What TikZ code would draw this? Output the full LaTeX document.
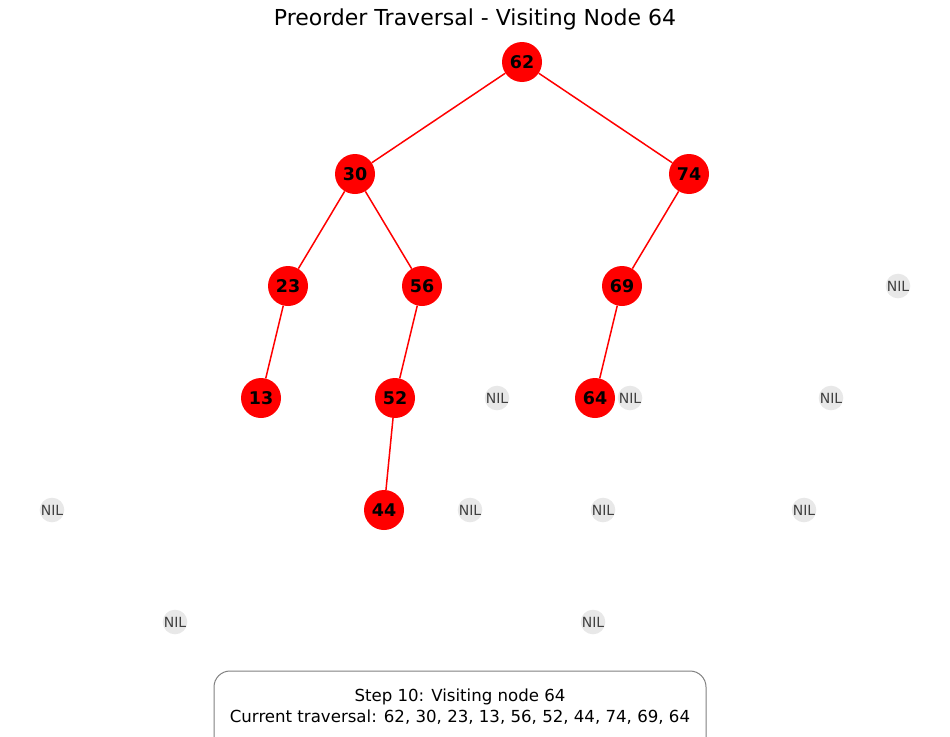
\documentclass[tikz,border=0pt]{standalone}
\usepackage{fontspec}
\setmainfont{DejaVu Sans}
\begin{document}
\begin{tikzpicture}[x=1pt,y=-1pt,
  vnode/.style={circle,fill=red,minimum size=40pt,inner sep=0pt,font=\fontsize{17.5}{17.5}\selectfont\bfseries,text=black},
  nilnode/.style={circle,fill=black!9,minimum size=24pt,inner sep=0pt,font=\fontsize{14}{14}\selectfont,text=black!75},
  tedge/.style={red,line width=1.5pt}]
\clip (0,0) rectangle (950,736);
\useasboundingbox (0,0) rectangle (950,736);
\node[font=\fontsize{22}{22}\selectfont] (title) at (475,19) {Preorder Traversal - Visiting Node 64};
\node[vnode] (n62) at (522,62) {62};
\node[vnode] (n30) at (355,174) {30};
\node[vnode] (n74) at (689,174) {74};
\node[vnode] (n23) at (288,286) {23};
\node[vnode] (n56) at (422,286) {56};
\node[vnode] (n69) at (622,286) {69};
\node[vnode] (n13) at (261,398) {13};
\node[vnode] (n52) at (395,398) {52};
\node[vnode] (n64) at (595,398) {64};
\node[vnode] (n44) at (384,510) {44};
\node[nilnode] (nil1) at (898,286) {NIL};
\node[nilnode] (nil2) at (497,398) {NIL};
\node[nilnode] (nil3) at (630,398) {NIL};
\node[nilnode] (nil4) at (831,398) {NIL};
\node[nilnode] (nil5) at (52,510) {NIL};
\node[nilnode] (nil6) at (470,510) {NIL};
\node[nilnode] (nil7) at (603,510) {NIL};
\node[nilnode] (nil8) at (804,510) {NIL};
\node[nilnode] (nil9) at (175,622) {NIL};
\node[nilnode] (nil10) at (593,622) {NIL};
\draw[tedge] (n62) -- (n30);
\draw[tedge] (n62) -- (n74);
\draw[tedge] (n30) -- (n23);
\draw[tedge] (n30) -- (n56);
\draw[tedge] (n74) -- (n69);
\draw[tedge] (n23) -- (n13);
\draw[tedge] (n56) -- (n52);
\draw[tedge] (n69) -- (n64);
\draw[tedge] (n52) -- (n44);
\draw[black!50,line width=1pt,rounded corners=16pt] (214,760) -- (214,671) -- (706,671) -- (706,760);
\node[align=center,font=\fontsize{16.6}{20.5}\selectfont] (info) at (460,706.5) {Step 10: Visiting node 64\\Current traversal: 62, 30, 23, 13, 56, 52, 44, 74, 69, 64};
\end{tikzpicture}
\end{document}
